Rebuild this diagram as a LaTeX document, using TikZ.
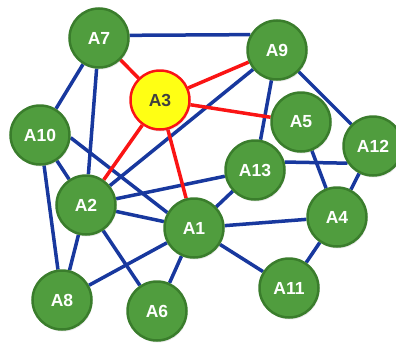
\documentclass[tikz,border=0pt]{standalone}
\usepackage{fontspec}
\setmainfont{Liberation Sans}
\usetikzlibrary{positioning, backgrounds, shadows}
\definecolor{agentgreen}{RGB}{80,157,62}
\definecolor{rimgreen}{RGB}{58,125,44}
\definecolor{linkblue}{RGB}{24,56,158}
\definecolor{hotred}{RGB}{250,20,20}
\definecolor{hubyellow}{RGB}{255,255,20}
\tikzset{agent/.style={draw=rimgreen, fill=agentgreen, circle, line width=2.5pt, minimum size=59pt, inner sep=0pt, font=\fontsize{17.5}{18}\selectfont\bfseries, text=white, drop shadow={opacity=0.18, shadow xshift=1pt, shadow yshift=-2pt}},
hub/.style={agent, draw=hotred, fill=hubyellow, text=black!75},
link/.style={draw=linkblue, line width=3.5pt},
hotlink/.style={draw=hotred, line width=3.5pt}}

\begin{document}
\begin{tikzpicture}[x=1pt, y=-1pt]
  \useasboundingbox (0,0) rectangle (396,343);
  \node[agent] (a7) at (99,38) {A7};
  \node[hub] (a3) at (160,100) {A3};
  \node[agent] (a9) at (277,50) {A9};
  \node[agent] (a10) at (40,135) {A10};
  \node[agent] (a5) at (301,122) {A5};
  \node[agent] (a12) at (373,146) {A12};
  \node[agent] (a13) at (255,170) {A13};
  \node[agent] (a2) at (86,205) {A2};
  \node[agent] (a1) at (194,228) {A1};
  \node[agent] (a4) at (337,217) {A4};
  \node[agent] (a8) at (62,300) {A8};
  \node[agent] (a6) at (157,311) {A6};
  \node[agent] (a11) at (289,288) {A11};
  \begin{scope}[on background layer]
    % blue links
    \draw[link] (a7.5) -- (a9.150);
    \draw[link] (a7) -- (a10);
    \draw[link] (a7) -- (a2);
    \draw[link] (a10) -- (a8);
    \draw[link] (a10) -- (a2);
    \draw[link] (a10.-5) -- (a1.150);
    \draw[link] (a9) -- (a2);
    \draw[link] (a9) -- (a13);
    \draw[link] (a9) -- (a12);
    \draw[link] (a5) -- (a4);
    \draw[link] (a13.15) -- (a12.214);
    \draw[link] (a2) -- (a13);
    \draw[link] (a1) -- (a13);
    \draw[link] (a2) -- (a1);
    \draw[link] (a2) -- (a8);
    \draw[link] (a2) -- (a6);
    \draw[link] (a8) -- (a1);
    \draw[link] (a1) -- (a6);
    \draw[link] (a1) -- (a4);
    \draw[link] (a1) -- (a11);
    \draw[link] (a4) -- (a11);
    \draw[link] (a4) -- (a12);
    % red links
    \foreach \t in {a7, a9, a5, a2, a1}
      \draw[hotlink] (a3) -- (\t);
  \end{scope}
\end{tikzpicture}
\end{document}
